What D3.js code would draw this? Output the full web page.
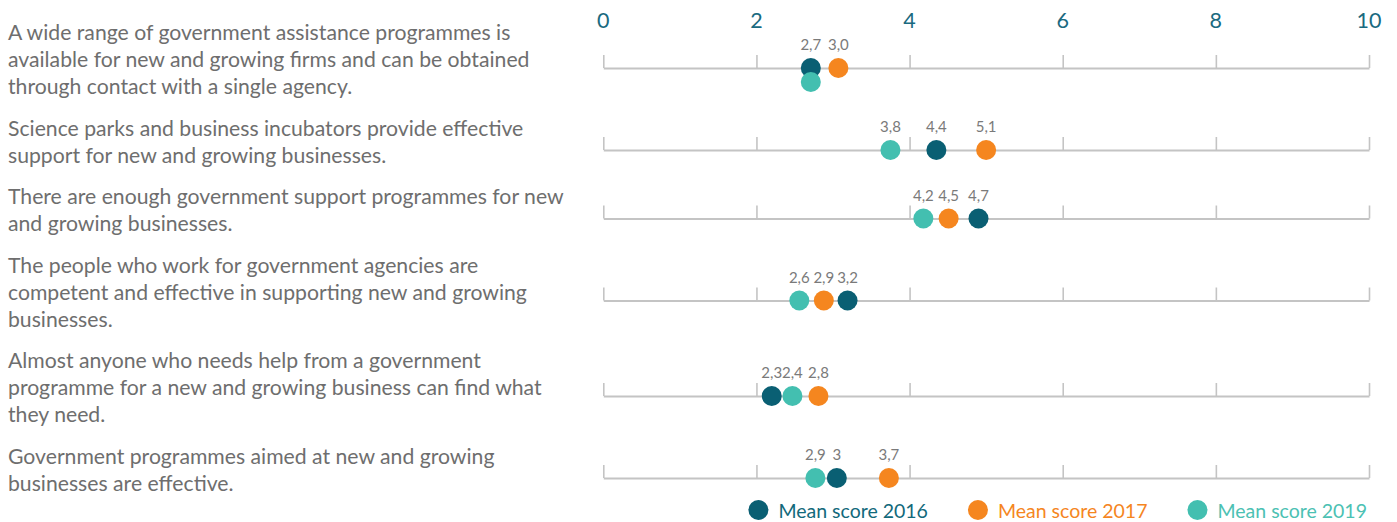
<!DOCTYPE html>
<html>
<head>
<meta charset="utf-8">
<script src="https://cdn.jsdelivr.net/npm/d3@7"></script>
<style>
  html, body { margin: 0; padding: 0; background: #ffffff; }
  svg { display: block; }
  text { font-family: Lato, "Open Sans", sans-serif; }
</style>
</head>
<body>
<svg id="chart" width="1397" height="522"></svg>
<script>
// ---- data ----
const categories = [
  "A wide range of government assistance programmes is|available for new and growing firms and can be obtained|through contact with a single agency.",
  "Science parks and business incubators provide effective|support for new and growing businesses.",
  "There are enough government support programmes for new|and growing businesses.",
  "The people who work for government agencies are|competent and effective in supporting new and growing|businesses.",
  "Almost anyone who needs help from a government|programme for a new and growing business can find what|they need.",
  "Government programmes aimed at new and growing|businesses are effective."
];
const seriesNames = ["Mean score 2016", "Mean score 2017", "Mean score 2019"];
const values2016 = [2.71, 4.35, 4.90, 3.19, 2.20, 3.05];
const values2017 = [3.07, 5.00, 4.51, 2.88, 2.81, 3.73];
const values2019 = [2.71, 3.75, 4.18, 2.56, 2.47, 2.77];
const labels2016 = ["2,7", "4,4", "4,7", "3,2", "2,3", "3"];
const labels2017 = ["3,0", "5,1", "4,5", "2,9", "2,8", "3,7"];
const labels2019 = ["", "3,8", "4,2", "2,6", "2,4", "2,9"];
const tickValues = [0, 2, 4, 6, 8, 10];
const tickLabels = ["0", "2", "4", "6", "8", "10"];

// ---- style ----
const colors = ["#0a5f73", "#f5861f", "#43bfb0"];
const legendTextColors = ["#12697b", "#f5861f", "#4cc1b3"];
const axisColor = "#c4c4c4";

const svg = d3.select("#chart");
const x = d3.scaleLinear().domain([0, 10]).range([603.3, 1369]);

// row layout computed from number of text lines
const lineH = 27, gapH = 14.5;
const rows = [];
let yFirst = 33;
categories.forEach((c, i) => {
  const lines = c.split("|");
  const lineY = yFirst + (lines.length - 1) * lineH / 2 + 8;
  rows.push({ i, lines, yFirst, lineY });
  yFirst += lines.length * lineH + gapH;
});

// category labels
const catG = svg.append("g");
rows.forEach(r => {
  const t = catG.append("text")
    .attr("x", 8)
    .attr("font-size", 21.2)
    .attr("fill", "#6e6e6e");
  r.lines.forEach((ln, k) => {
    t.append("tspan")
      .attr("x", 8)
      .attr("y", r.yFirst + k * lineH)
      .attr("dy", "0.35em")
      .text(ln);
  });
});

// top tick labels
svg.append("g").selectAll("text")
  .data(tickValues)
  .join("text")
  .attr("x", d => x(d))
  .attr("y", 28)
  .attr("text-anchor", "middle")
  .attr("font-size", 21.5)
  .attr("fill", "#1a6a80")
  .text((d, i) => tickLabels[i]);

// row axes
rows.forEach(r => {
  const g = svg.append("g").attr("transform", `translate(0,${r.lineY})`);
  const axis = d3.axisTop(x).tickValues(tickValues).tickSize(13).tickSizeOuter(0).tickFormat("");
  g.call(axis);
  g.select(".domain").attr("stroke", axisColor).attr("stroke-width", 2);
  g.selectAll(".tick line").attr("stroke", axisColor).attr("stroke-width", 1.6);
});

// dots
const allVals = [values2016, values2017, values2019];
const allLabels = [labels2016, labels2017, labels2019];
const dotG = svg.append("g");
const lblG = svg.append("g");
rows.forEach(r => {
  allVals.forEach((vals, s) => {
    const v = vals[r.i];
    // offset duplicates below the line
    let dy = 0;
    if (s === 2 && (Math.abs(v - values2016[r.i]) < 1e-9 || Math.abs(v - values2017[r.i]) < 1e-9)) dy = 14;
    dotG.append("circle")
      .attr("cx", x(v))
      .attr("cy", r.lineY + dy)
      .attr("r", 10)
      .attr("fill", colors[s]);
    const lab = allLabels[s][r.i];
    if (lab) {
      lblG.append("text")
        .attr("x", x(v))
        .attr("y", r.lineY - 17.6)
        .attr("text-anchor", "middle")
        .attr("font-size", 15)
        .attr("fill", "#7a7a7a")
        .text(lab);
    }
  });
});

// legend, right aligned to axis end
const legG = svg.append("g");
const items = seriesNames.map((n, i) => {
  const t = legG.append("text")
    .attr("y", 511)
    .attr("dy", "0.35em")
    .attr("font-size", 19.5)
    .attr("fill", legendTextColors[i])
    .text(n);
  return { t, w: t.node().getComputedTextLength(), i };
});
let cursor = 1367;
for (let k = items.length - 1; k >= 0; k--) {
  const it = items[k];
  const tx = cursor - it.w;
  it.t.attr("x", tx);
  legG.append("circle").attr("cx", tx - 20).attr("cy", 510).attr("r", 10).attr("fill", colors[it.i]);
  cursor = tx - 20 - 10 - 40;
}
</script>
</body>
</html>
